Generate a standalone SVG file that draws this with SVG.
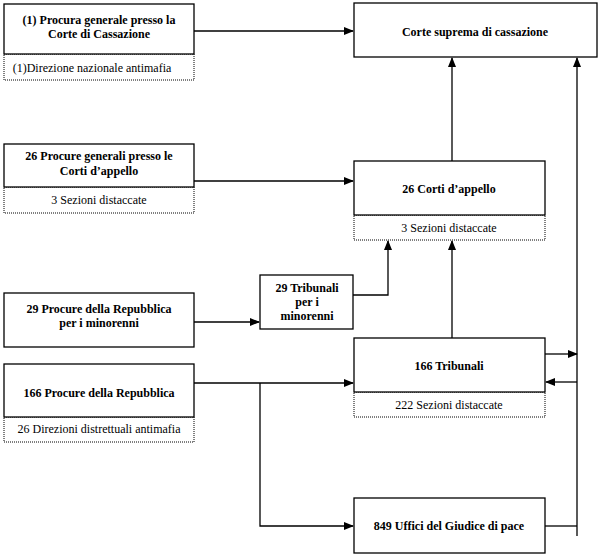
<svg xmlns="http://www.w3.org/2000/svg" width="598" height="557" viewBox="0 0 598 557">
<defs>
<marker id="ah" markerWidth="10" markerHeight="8" refX="9" refY="4" orient="auto" markerUnits="userSpaceOnUse">
<path d="M0,0 L10,4 L0,8 Z" fill="#000"/>
</marker>
<style>
.box{fill:#fff;stroke:#000;stroke-width:1.3}
.dot{fill:#fff;stroke:#000;stroke-width:1;stroke-dasharray:1,1}
.b{font-weight:bold;text-anchor:middle}
.r{text-anchor:middle}
.c{fill:none;stroke:#000;stroke-width:1.3}
</style>
</defs>
<rect width="598" height="557" fill="#fff"/>
<g id="connectors">
<path class="c" d="M194,31 H353" marker-end="url(#ah)"/>
<path class="c" d="M194,181 H353" marker-end="url(#ah)"/>
<path class="c" d="M194,322 H259" marker-end="url(#ah)"/>
<path class="c" d="M194,383 H353" marker-end="url(#ah)"/>
<path class="c" d="M260,383 V526 H353" marker-end="url(#ah)"/>
<path class="c" d="M353,295 H388 V241" marker-end="url(#ah)"/>
<path class="c" d="M452,338 V241" marker-end="url(#ah)"/>
<path class="c" d="M452,161 V58" marker-end="url(#ah)"/>
<path class="c" d="M577,536 V58" marker-end="url(#ah)"/>
<path class="c" d="M545,526 H577"/>
<path class="c" d="M545,354 H577" marker-end="url(#ah)"/>
<path class="c" d="M577,382 H546" marker-end="url(#ah)"/>
</g>
<g font-family="Liberation Serif, Times New Roman, DejaVu Serif, serif" font-size="12">
<g id="n1">
<rect class="dot" x="4" y="54" width="190" height="26"/>
<rect class="box" x="4" y="4" width="190" height="50"/>
<text class="b" x="99" y="24">(1) Procura generale presso la</text>
<text class="b" x="99" y="38">Corte di Cassazione</text>
<text class="r" x="92" y="72">(1)Direzione nazionale  antimafia</text>
</g>
<g id="n2">
<rect class="box" x="354" y="3" width="243" height="54"/>
<text class="b" x="475" y="36">Corte suprema di cassazione</text>
</g>
<g id="n3">
<rect class="dot" x="4" y="187" width="190" height="26"/>
<rect class="box" x="4" y="144" width="190" height="43"/>
<text class="b" x="99" y="160">26 Procure generali presso le</text>
<text class="b" x="99" y="175">Corti d’appello</text>
<text class="r" x="99" y="204">3 Sezioni distaccate</text>
</g>
<g id="n4">
<rect class="dot" x="354" y="215" width="191" height="25"/>
<rect class="box" x="354" y="161" width="191" height="54"/>
<text class="b" x="449" y="193">26 Corti d’appello</text>
<text class="r" x="449" y="232">3 Sezioni distaccate</text>
</g>
<g id="n5">
<rect class="box" x="4" y="293" width="190" height="54"/>
<text class="b" x="99" y="313">29 Procure della Repubblica</text>
<text class="b" x="99" y="327">per i minorenni</text>
</g>
<g id="n6">
<rect class="box" x="260" y="275" width="93" height="54"/>
<text class="b" x="307" y="292">29 Tribunali</text>
<text class="b" x="307" y="306">per i</text>
<text class="b" x="307" y="320">minorenni</text>
</g>
<g id="n7">
<rect class="dot" x="4" y="417" width="190" height="25"/>
<rect class="box" x="4" y="364" width="190" height="53"/>
<text class="b" x="99" y="397">166 Procure della Repubblica</text>
<text class="r" x="99" y="433">26 Direzioni distrettuali antimafia</text>
</g>
<g id="n8">
<rect class="dot" x="354" y="392" width="191" height="25"/>
<rect class="box" x="354" y="338" width="191" height="54"/>
<text class="b" x="449" y="370">166 Tribunali</text>
<text class="r" x="449" y="409">222 Sezioni distaccate</text>
</g>
<g id="n9">
<rect class="box" x="354" y="498" width="191" height="55"/>
<text class="b" x="449" y="530">849 Uffici del Giudice di pace</text>
</g>
</g>
</svg>
